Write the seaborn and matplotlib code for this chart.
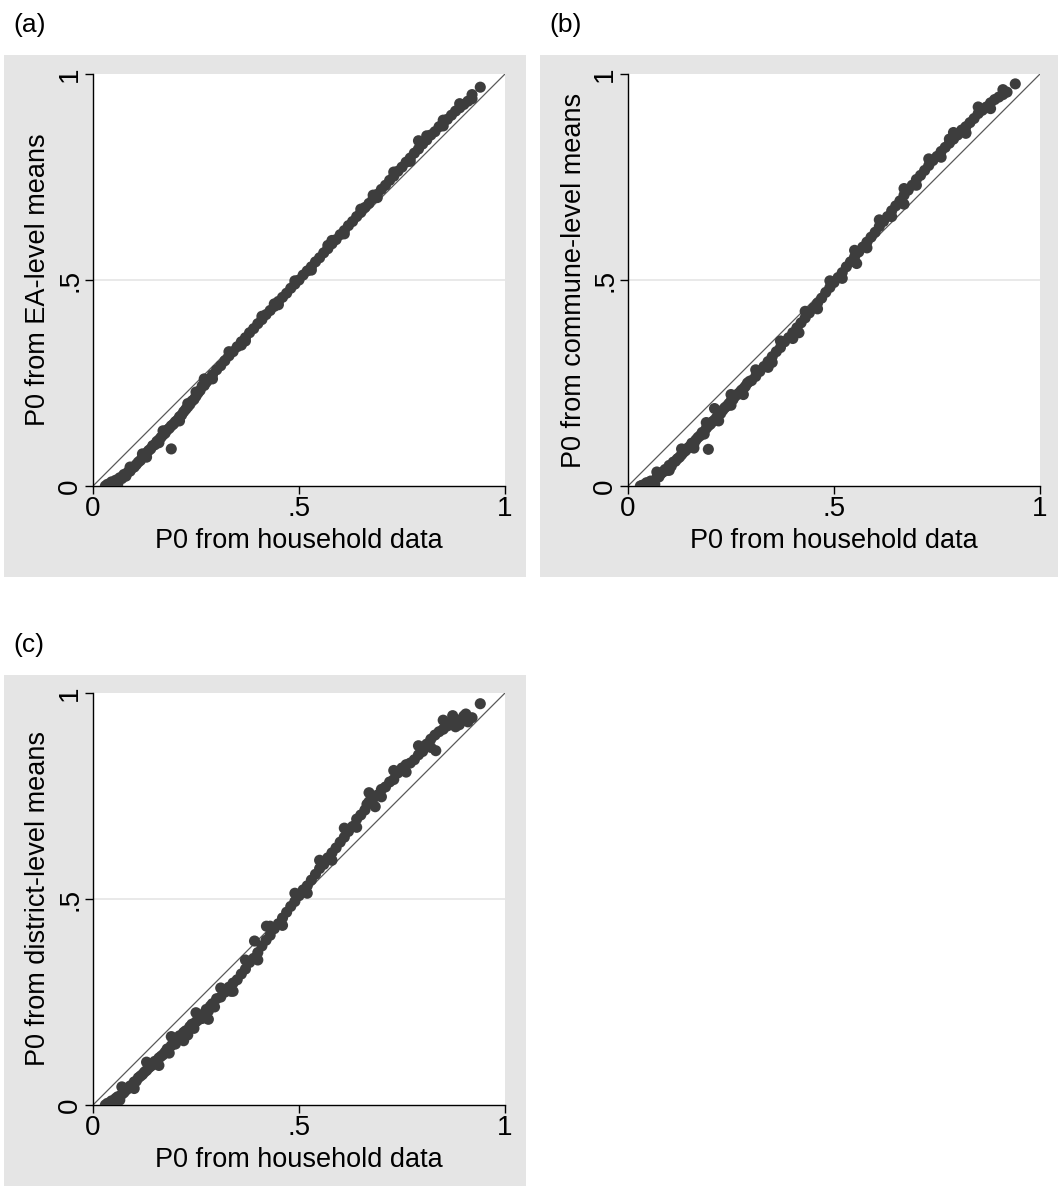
import matplotlib
matplotlib.use("Agg")
import matplotlib.pyplot as plt
import seaborn as sns
import numpy as np
import pandas as pd
from matplotlib.patches import Rectangle

# P0 estimates: household data (x) vs. estimates from area-level means (y)
ea_x = [0.030, 0.035, 0.040, 0.045, 0.050, 0.055, 0.060, 0.065, 0.070, 0.075,
        0.080, 0.085, 0.090, 0.095, 0.100, 0.105, 0.110, 0.115, 0.120, 0.125,
        0.130, 0.135, 0.140, 0.145, 0.150, 0.155, 0.160, 0.165, 0.170, 0.175,
        0.180, 0.185, 0.190, 0.190, 0.195, 0.200, 0.205, 0.210, 0.215, 0.220,
        0.225, 0.230, 0.235, 0.240, 0.245, 0.250, 0.255, 0.260, 0.265, 0.270,
        0.275, 0.280, 0.290, 0.300, 0.310, 0.320, 0.330, 0.340, 0.350, 0.360,
        0.370, 0.380, 0.390, 0.400, 0.410, 0.420, 0.430, 0.440, 0.450, 0.460,
        0.470, 0.480, 0.490, 0.500, 0.510, 0.520, 0.530, 0.540, 0.550, 0.560,
        0.570, 0.580, 0.590, 0.600, 0.610, 0.620, 0.630, 0.640, 0.650, 0.660,
        0.670, 0.680, 0.690, 0.700, 0.710, 0.720, 0.730, 0.740, 0.750, 0.760,
        0.770, 0.780, 0.790, 0.800, 0.810, 0.820, 0.830, 0.840, 0.850, 0.860,
        0.870, 0.880, 0.890, 0.900, 0.910, 0.920, 0.940,
        0.270, 0.230, 0.680, 0.790, 0.580, 0.360, 0.440, 0.120, 0.160, 0.850,
        0.060, 0.090, 0.130, 0.170, 0.210, 0.250, 0.290, 0.330, 0.370, 0.410,
        0.450, 0.490, 0.530, 0.570, 0.610, 0.650, 0.690, 0.730, 0.770, 0.810,
        0.850, 0.890, 0.920]
ea_y = [0.000, 0.004, 0.002, 0.010, 0.006, 0.014, 0.012, 0.020, 0.018, 0.028,
        0.024, 0.034, 0.036, 0.044, 0.046, 0.052, 0.058, 0.062, 0.070, 0.074,
        0.080, 0.086, 0.090, 0.098, 0.100, 0.108, 0.112, 0.118, 0.124, 0.128,
        0.136, 0.140, 0.090, 0.146, 0.150, 0.156, 0.160, 0.168, 0.172, 0.180,
        0.186, 0.192, 0.198, 0.206, 0.210, 0.218, 0.226, 0.232, 0.243, 0.244,
        0.252, 0.258, 0.270, 0.282, 0.292, 0.304, 0.316, 0.326, 0.338, 0.350,
        0.360, 0.372, 0.382, 0.394, 0.404, 0.416, 0.426, 0.436, 0.448, 0.458,
        0.468, 0.480, 0.490, 0.500, 0.512, 0.522, 0.532, 0.544, 0.554, 0.566,
        0.576, 0.588, 0.598, 0.610, 0.620, 0.632, 0.642, 0.654, 0.664, 0.676,
        0.686, 0.698, 0.708, 0.720, 0.730, 0.742, 0.752, 0.764, 0.774, 0.786,
        0.796, 0.808, 0.818, 0.830, 0.840, 0.852, 0.860, 0.872, 0.882, 0.890,
        0.900, 0.910, 0.918, 0.926, 0.934, 0.940, 0.968,
        0.260, 0.200, 0.706, 0.838, 0.596, 0.342, 0.442, 0.078, 0.105, 0.888,
        0.004, 0.046, 0.070, 0.134, 0.158, 0.228, 0.260, 0.326, 0.352, 0.412,
        0.440, 0.498, 0.524, 0.584, 0.612, 0.672, 0.700, 0.762, 0.788, 0.850,
        0.874, 0.928, 0.950]

commune_x = [0.030, 0.035, 0.040, 0.045, 0.050, 0.055, 0.060, 0.065, 0.070, 0.075,
             0.080, 0.085, 0.090, 0.095, 0.100, 0.105, 0.110, 0.115, 0.120, 0.125,
             0.130, 0.135, 0.140, 0.145, 0.150, 0.155, 0.160, 0.165, 0.170, 0.175,
             0.180, 0.185, 0.190, 0.195, 0.195, 0.200, 0.205, 0.210, 0.210, 0.215,
             0.220, 0.225, 0.230, 0.235, 0.240, 0.245, 0.250, 0.255, 0.260, 0.265,
             0.270, 0.275, 0.280, 0.285, 0.290, 0.295, 0.300, 0.310, 0.320, 0.330,
             0.340, 0.350, 0.360, 0.370, 0.380, 0.390, 0.400, 0.410, 0.415, 0.420,
             0.430, 0.440, 0.450, 0.460, 0.470, 0.480, 0.490, 0.500, 0.510, 0.520,
             0.530, 0.540, 0.550, 0.555, 0.560, 0.570, 0.580, 0.590, 0.600, 0.610,
             0.620, 0.630, 0.640, 0.650, 0.660, 0.670, 0.680, 0.690, 0.700, 0.710,
             0.720, 0.730, 0.740, 0.750, 0.760, 0.770, 0.780, 0.790, 0.800, 0.810,
             0.820, 0.830, 0.840, 0.850, 0.860, 0.870, 0.880, 0.890, 0.900, 0.910,
             0.920, 0.940, 0.670, 0.820, 0.780, 0.350, 0.250,
             0.070, 0.100, 0.130, 0.160, 0.190, 0.220, 0.250, 0.280, 0.310, 0.340,
             0.370, 0.400, 0.430, 0.460, 0.490, 0.520, 0.550, 0.580, 0.610, 0.640,
             0.670, 0.700, 0.730, 0.760, 0.790, 0.820, 0.850, 0.880, 0.910]
commune_y = [0.000, 0.002, 0.000, 0.008, 0.004, 0.012, 0.010, 0.004, 0.020, 0.022,
             0.030, 0.034, 0.040, 0.038, 0.050, 0.048, 0.058, 0.060, 0.066, 0.070,
             0.076, 0.082, 0.086, 0.092, 0.096, 0.104, 0.102, 0.112, 0.118, 0.122,
             0.130, 0.126, 0.140, 0.089, 0.146, 0.150, 0.156, 0.188, 0.160, 0.166,
             0.172, 0.176, 0.184, 0.190, 0.194, 0.200, 0.206, 0.210, 0.218, 0.222,
             0.226, 0.232, 0.236, 0.242, 0.250, 0.254, 0.256, 0.266, 0.278, 0.290,
             0.302, 0.314, 0.326, 0.336, 0.350, 0.360, 0.372, 0.384, 0.372, 0.396,
             0.408, 0.420, 0.432, 0.444, 0.456, 0.470, 0.482, 0.494, 0.506, 0.518,
             0.532, 0.544, 0.556, 0.540, 0.568, 0.580, 0.592, 0.604, 0.616, 0.630,
             0.642, 0.654, 0.668, 0.680, 0.692, 0.706, 0.718, 0.730, 0.744, 0.754,
             0.766, 0.778, 0.790, 0.800, 0.812, 0.822, 0.832, 0.842, 0.852, 0.864,
             0.872, 0.882, 0.892, 0.904, 0.912, 0.920, 0.930, 0.938, 0.944, 0.950,
             0.956, 0.976, 0.684, 0.856, 0.842, 0.300, 0.196,
             0.034, 0.038, 0.090, 0.092, 0.154, 0.158, 0.222, 0.222, 0.282, 0.288,
             0.352, 0.358, 0.424, 0.430, 0.498, 0.504, 0.572, 0.578, 0.646, 0.654,
             0.722, 0.730, 0.794, 0.798, 0.858, 0.858, 0.920, 0.916, 0.962]

district_x = [0.030, 0.035, 0.040, 0.045, 0.050, 0.055, 0.060, 0.065, 0.070, 0.075,
              0.080, 0.085, 0.090, 0.095, 0.100, 0.105, 0.110, 0.115, 0.120, 0.125,
              0.130, 0.135, 0.140, 0.145, 0.150, 0.155, 0.160, 0.165, 0.170, 0.175,
              0.180, 0.185, 0.190, 0.195, 0.200, 0.205, 0.210, 0.215, 0.220, 0.225,
              0.230, 0.235, 0.240, 0.245, 0.250, 0.255, 0.260, 0.265, 0.270, 0.275,
              0.280, 0.285, 0.290, 0.295, 0.300, 0.310, 0.320, 0.330, 0.335, 0.340,
              0.350, 0.360, 0.370, 0.380, 0.390, 0.392, 0.400, 0.410, 0.420, 0.421,
              0.430, 0.440, 0.450, 0.460, 0.470, 0.480, 0.490, 0.500, 0.510, 0.520,
              0.530, 0.540, 0.550, 0.560, 0.570, 0.580, 0.590, 0.600, 0.610, 0.620,
              0.630, 0.640, 0.650, 0.660, 0.665, 0.670, 0.680, 0.685, 0.690, 0.700,
              0.710, 0.720, 0.730, 0.740, 0.750, 0.760, 0.770, 0.780, 0.790, 0.800,
              0.810, 0.820, 0.830, 0.832, 0.840, 0.850, 0.860, 0.870, 0.873, 0.880,
              0.889, 0.890, 0.900, 0.905, 0.910, 0.920, 0.940,
              0.070, 0.100, 0.130, 0.160, 0.190, 0.220, 0.250, 0.280, 0.310, 0.340,
              0.370, 0.400, 0.430, 0.460, 0.490, 0.520, 0.550, 0.580, 0.610, 0.640,
              0.670, 0.700, 0.730, 0.760, 0.790, 0.820, 0.850, 0.880]
district_y = [0.000, 0.004, 0.002, 0.010, 0.006, 0.016, 0.020, 0.012, 0.026, 0.030,
              0.036, 0.040, 0.046, 0.048, 0.056, 0.058, 0.066, 0.070, 0.074, 0.080,
              0.084, 0.090, 0.094, 0.098, 0.106, 0.102, 0.114, 0.118, 0.122, 0.128,
              0.136, 0.126, 0.144, 0.150, 0.148, 0.160, 0.168, 0.162, 0.176, 0.180,
              0.170, 0.190, 0.196, 0.186, 0.202, 0.206, 0.214, 0.210, 0.222, 0.232,
              0.228, 0.240, 0.246, 0.238, 0.258, 0.262, 0.274, 0.286, 0.276, 0.296,
              0.304, 0.318, 0.330, 0.346, 0.356, 0.398, 0.370, 0.386, 0.400, 0.434,
              0.412, 0.428, 0.440, 0.454, 0.468, 0.482, 0.494, 0.508, 0.522, 0.532,
              0.546, 0.560, 0.574, 0.584, 0.600, 0.612, 0.624, 0.638, 0.650, 0.664,
              0.676, 0.694, 0.704, 0.716, 0.730, 0.736, 0.744, 0.724, 0.752, 0.766,
              0.772, 0.784, 0.790, 0.806, 0.818, 0.826, 0.830, 0.838, 0.850, 0.858,
              0.876, 0.888, 0.898, 0.860, 0.906, 0.912, 0.920, 0.926, 0.945, 0.936,
              0.923, 0.928, 0.944, 0.949, 0.930, 0.940, 0.974,
              0.044, 0.040, 0.104, 0.096, 0.166, 0.156, 0.224, 0.208, 0.284, 0.276,
              0.352, 0.352, 0.434, 0.436, 0.514, 0.514, 0.594, 0.594, 0.672, 0.674,
              0.758, 0.748, 0.812, 0.808, 0.872, 0.868, 0.934, 0.918]

panels = [
    ("(a)", "P0 from EA-level means", ea_x, ea_y),
    ("(b)", "P0 from commune-level means", commune_x, commune_y),
    ("(c)", "P0 from district-level means", district_x, district_y),
]

W, H = 1061, 1196
sns.set_theme(style="white")
plt.rcParams['font.family'] = ['Liberation Sans', 'DejaVu Sans']
plt.rcParams['text.color'] = 'black'
plt.rcParams['axes.labelcolor'] = 'black'
plt.rcParams['xtick.color'] = 'black'
plt.rcParams['ytick.color'] = 'black'

fig = plt.figure(figsize=(W / 100, H / 100), dpi=100)
fig.patch.set_facecolor("white")

# (frame left, frame top, frame right, frame bottom, axis left px, axis top px)
layout = [
    (4, 55, 526, 577, 93, 74),
    (540, 55, 1058, 577, 628, 74),
    (4, 675, 526, 1186, 93, 693),
]
side = 412

for (tag, ylab, xs, ys), (fl, ft, fr, fb, axl, axt) in zip(panels, layout):
    fig.patches.append(Rectangle((fl / W, 1 - fb / H), (fr - fl) / W, (fb - ft) / H,
                                 transform=fig.transFigure, facecolor="#e5e5e5",
                                 edgecolor="none", zorder=-10))
    fig.text((fl + 9) / W, 1 - (ft - 30) / H, tag, fontsize=19, va="center", ha="left")

    ax = fig.add_axes([axl / W, 1 - (axt + side) / H, side / W, side / H])
    ax.set_zorder(5)
    ax.set_facecolor("white")
    df = pd.DataFrame({"x": xs, "y": ys})
    ax.axhline(0.5, color="#e3e3e3", lw=1.1, zorder=1)
    ax.plot([0, 1], [0, 1], color="#5a5a5a", lw=0.9, zorder=2)
    sns.scatterplot(data=df, x="x", y="y", ax=ax, s=64, color="#3d3d3d",
                    edgecolor="none", linewidth=0, zorder=3)

    ax.set_xlim(0, 1)
    ax.set_ylim(0, 1)
    ax.set_xticks([0, 0.5, 1])
    ax.set_xticklabels(["0", ".5", "1"])
    ax.set_yticks([0, 0.5, 1])
    ax.set_yticklabels(["0", ".5", "1"], rotation=90, va="center")
    ax.tick_params(axis="both", direction="out", length=5.5, width=1,
                   color="black", labelsize=20, pad=1.5, bottom=True, left=True)
    for s in ["top", "right"]:
        ax.spines[s].set_visible(False)
    for s in ["left", "bottom"]:
        ax.spines[s].set_color("black")
        ax.spines[s].set_linewidth(1)
    ax.set_xlabel("P0 from household data", fontsize=19.5)
    ax.set_ylabel(ylab, fontsize=19.5)
    ax.xaxis.set_label_coords(0.5, -(541 - 486) / side)
    ax.yaxis.set_label_coords(-(axl - fl - 34) / side, 0.5)
    ax.xaxis.label.set_va("center")
    ax.yaxis.label.set_va("center")

fig.savefig("out.png", dpi=100)
